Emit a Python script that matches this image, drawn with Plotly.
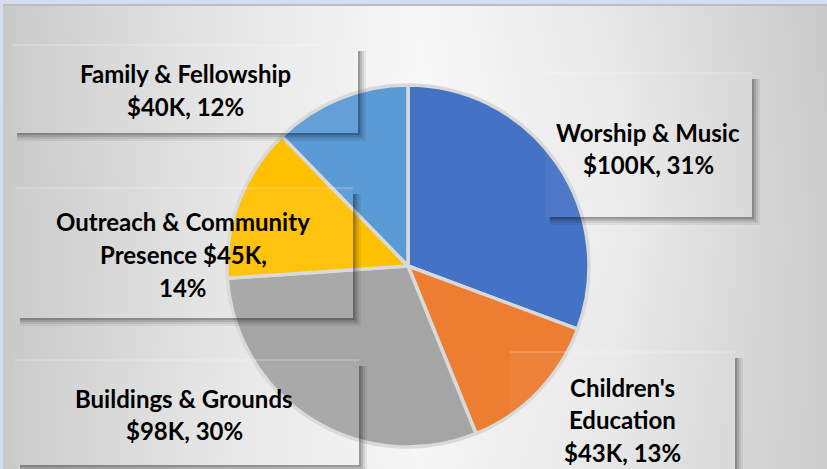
import plotly.graph_objects as go

# ---- data ----
categories = ["Worship & Music", "Children's Education", "Buildings & Grounds",
              "Outreach & Community Presence", "Family & Fellowship"]
values_k = [100, 43, 98, 45, 40]
colors = ["#4472C4", "#ED7D31", "#A5A5A5", "#FFC000", "#5B9BD5"]
# words per wrapped line of each label text
wrap_words = [[3, 2], [1, 1, 2], [3, 2], [3, 2, 1], [3, 2]]

# background gray levels
bg_x = [0, 200, 420, 620, 827]
bg_y = [0, 235, 469]
bg_z = [[201, 228, 247, 230, 201],
        [200, 226, 250, 236, 204],
        [200, 228, 246, 229, 204]]

W, H = 827, 469
def px(x):
    return x / W
def py(y):
    return 1 - y / H

total = sum(values_k)
pcts = [round(v * 100 / total) for v in values_k]
texts = [f"{c} ${v}K, {p}%" for c, v, p in zip(categories, values_k, pcts)]
lines_all = []
for t, ww in zip(texts, wrap_words):
    words = t.split(" ")
    out, i = [], 0
    for n in ww:
        out.append(" ".join(words[i:i + n]))
        i += n
    lines_all.append(out)

# label boxes (pixel) and text anchors, per slice order
boxes = [(545, 73, 752, 217), (510, 352, 735, 482), (15, 360, 359, 465),
         (15, 188, 353, 318), (12, 45, 358, 133)]
text_x = [648, 622, 184, 183, 185]
text_y0 = [132, 387, 398, 222, 74]
line_gap = 32.5

fig = go.Figure()

fig.add_trace(go.Heatmap(
    x=bg_x, y=bg_y, z=bg_z, zsmooth="best", showscale=False,
    colorscale=[[0, "rgb(200,200,200)"], [1, "rgb(250,250,250)"]],
    zmin=200, zmax=250, hoverinfo="skip"))

cx, cy, r = 408, 266, 181
fig.add_trace(go.Pie(
    labels=categories, values=values_k, sort=False, direction="clockwise",
    rotation=0, textinfo="none", hoverinfo="label+value+percent",
    marker=dict(colors=colors, line=dict(color="#D9D9D9", width=3.5)),
    domain=dict(x=[px(cx - r), px(cx + r)], y=[py(cy + r), py(cy - r)]),
    showlegend=False))

shapes = []
# blue frame bands
shapes.append(dict(type="rect", xref="paper", yref="paper", x0=0, x1=1,
                   y0=py(4), y1=1, fillcolor="#D5DEF0", line_width=0, layer="above"))
shapes.append(dict(type="rect", xref="paper", yref="paper", x0=0, x1=px(3),
                   y0=0, y1=1, fillcolor="#D5DEF0", line_width=0, layer="above"))
shapes.append(dict(type="rect", xref="paper", yref="paper", x0=px(3), x1=1,
                   y0=py(6), y1=py(4), fillcolor="#BDBDBD", line_width=0, layer="above"))

for (x0, y0, x1, y1) in boxes:
    for k, a in [(8, 0.06), (6, 0.08), (4, 0.12), (2, 0.16)]:
        path = (f"M {px(x1)},{py(y0 + 6)} L {px(x1 + k)},{py(y0 + 6)} "
                f"L {px(x1 + k)},{py(y1 + k)} L {px(x0 + 5)},{py(y1 + k)} "
                f"L {px(x0 + 5)},{py(y1)} L {px(x1)},{py(y1)} Z")
        shapes.append(dict(type="path", xref="paper", yref="paper", path=path,
                           fillcolor=f"rgba(0,0,0,{a})", line_width=0, layer="above"))
    shapes.append(dict(type="rect", xref="paper", yref="paper",
                       x0=px(x0), x1=px(x1), y0=py(y1), y1=py(y0),
                       fillcolor="rgba(255,255,255,0.05)", line_width=0, layer="above"))
    shapes.append(dict(type="line", xref="paper", yref="paper",
                       x0=px(x0), x1=px(x1), y0=py(y0), y1=py(y0),
                       line=dict(color="rgba(255,255,255,0.35)", width=1), layer="above"))

annotations = []
for lines, tx, ty in zip(lines_all, text_x, text_y0):
    for j, ln in enumerate(lines):
        annotations.append(dict(
            xref="paper", yref="paper", x=px(tx), y=py(ty + j * line_gap),
            text=ln, showarrow=False, xanchor="center", yanchor="middle",
            font=dict(family="Lato, Open Sans, sans-serif", size=24,
                      color="#000000", weight="bold")))

fig.update_layout(
    width=W, height=H, margin=dict(l=0, r=0, t=0, b=0),
    paper_bgcolor="#E6E6E6", plot_bgcolor="rgba(0,0,0,0)",
    xaxis=dict(visible=False, range=[0, W], domain=[0, 1], fixedrange=True),
    yaxis=dict(visible=False, range=[H, 0], domain=[0, 1], fixedrange=True),
    shapes=shapes, annotations=annotations)

fig.write_html("out.html", config={"displayModeBar": False},
               post_script="document.body.style.margin='0px';"
                           "document.body.style.overflow='hidden';")
